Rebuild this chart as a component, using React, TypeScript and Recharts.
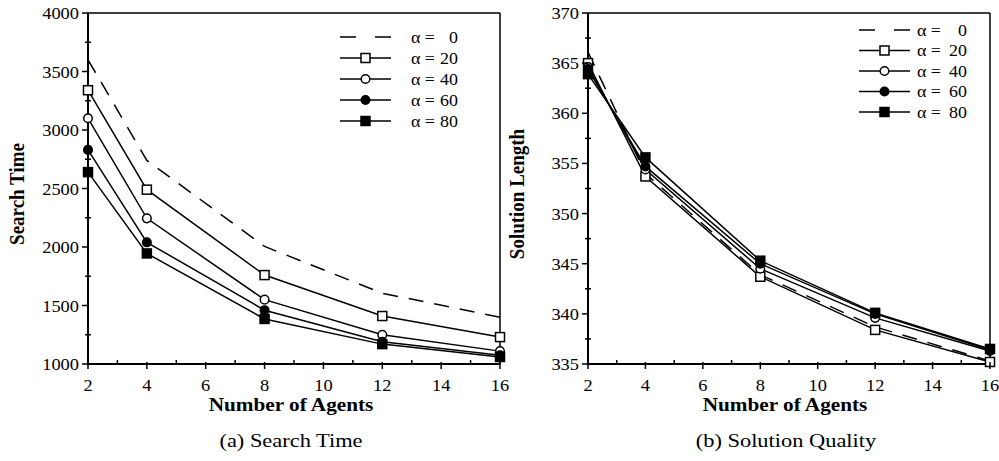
import { Legend, Line, LineChart, ReferenceLine, XAxis, YAxis } from "recharts";

const agents = [2, 4, 8, 12, 16];
const alphaLabels = ["0", "20", "40", "60", "80"];

// (a) search time
const searchTime0 = [3600, 2740, 2005, 1605, 1400];
const searchTime20 = [3340, 2490, 1760, 1410, 1230];
const searchTime40 = [3100, 2245, 1550, 1250, 1110];
const searchTime60 = [2830, 2040, 1460, 1190, 1075];
const searchTime80 = [2640, 1945, 1385, 1170, 1060];

// (b) solution length
const solution0 = [366.1, 354.0, 343.9, 338.7, 335.3];
const solution20 = [365.0, 353.7, 343.7, 338.4, 335.2];
const solution40 = [364.6, 354.4, 344.5, 339.6, 336.3];
const solution60 = [364.4, 354.7, 345.0, 340.0, 336.4];
const solution80 = [363.9, 355.6, 345.3, 340.1, 336.5];

const agentTicks = [2, 3, 4, 5, 6, 7, 8, 9, 10, 11, 12, 13, 14, 15, 16];
const searchTicks = [1000, 1250, 1500, 1750, 2000, 2250, 2500, 2750, 3000, 3250, 3500, 3750, 4000];
const solutionTicks = [335, 337.5, 340, 342.5, 345, 347.5, 350, 352.5, 355, 357.5, 360, 362.5, 365, 367.5, 370];

const FONT = "'Liberation Serif', 'Times New Roman', serif";

type Kind = "none" | "openSquare" | "openCircle" | "filledCircle" | "filledSquare";
const seriesKeys = ["a0", "a20", "a40", "a60", "a80"];
const markerKinds: Kind[] = ["none", "openSquare", "openCircle", "filledCircle", "filledSquare"];

function buildRows(series: number[][]) {
  return agents.map((n, i) => {
    const row: Record<string, number> = { agents: n };
    series.forEach((s, k) => {
      row[seriesKeys[k]] = s[i];
    });
    return row;
  });
}

const searchRows = buildRows([searchTime0, searchTime20, searchTime40, searchTime60, searchTime80]);
const solutionRows = buildRows([solution0, solution20, solution40, solution60, solution80]);

function Marker({ cx, cy, kind }: { cx?: number; cy?: number; kind: Kind }) {
  if (cx == null || cy == null || kind === "none") return null;
  if (kind === "openSquare" || kind === "filledSquare") {
    return (
      <rect
        x={cx - 4.5}
        y={cy - 4.5}
        width={9}
        height={9}
        fill={kind === "openSquare" ? "#fff" : "#000"}
        stroke="#000"
        strokeWidth={1.5}
      />
    );
  }
  return (
    <circle
      cx={cx}
      cy={cy}
      r={4.3}
      fill={kind === "openCircle" ? "#fff" : "#000"}
      stroke="#000"
      strokeWidth={1.5}
    />
  );
}

function makeYTick(step: number) {
  return (props: any) => {
    const { x, y, payload } = props;
    const v = payload.value as number;
    const major = Math.abs(v / step - Math.round(v / step)) < 1e-6;
    return (
      <g>
        {major ? (
          <line x1={x - 6} x2={x} y1={y} y2={y} stroke="#000" strokeWidth={1.5} />
        ) : (
          <line x1={x - 3} x2={x + 3} y1={y} y2={y} stroke="#000" strokeWidth={1.5} />
        )}
        {major && (
          <text
            transform={`translate(${x - 9},${y + 6}) scale(1.15,1)`}
            textAnchor="end"
            fontSize={16}
            fontFamily={FONT}
            fill="#000"
          >
            {v}
          </text>
        )}
      </g>
    );
  };
}

function XTick(props: any) {
  const { x, y, payload } = props;
  const v = payload.value as number;
  const major = v % 2 === 0;
  return (
    <g>
      {major ? (
        <line x1={x} x2={x} y1={y - 2} y2={y + 5} stroke="#000" strokeWidth={1.5} />
      ) : (
        <line x1={x} x2={x} y1={y - 4} y2={y} stroke="#000" strokeWidth={1.5} />
      )}
      {major && (
        <text
          transform={`translate(${x},${y + 27}) scale(1.15,1)`}
          textAnchor="middle"
          fontSize={16}
          fontFamily={FONT}
          fill="#000"
        >
          {v}
        </text>
      )}
    </g>
  );
}

function LegendBox({
  rowGap,
  lineEnd,
  textGap,
  valueEnd,
}: {
  rowGap: number;
  lineEnd: number;
  textGap: number;
  valueEnd: number;
}) {
  return (
    <svg width={150} height={115}>
      {alphaLabels.map((a, i) => {
        const y = 12 + i * rowGap;
        const kind = markerKinds[i];
        const mid = (10 + lineEnd) / 2;
        return (
          <g key={a}>
            {kind === "none" ? (
              <line x1={10} x2={lineEnd} y1={y} y2={y} stroke="#000" strokeWidth={1.5} strokeDasharray="16 19" />
            ) : (
              <line x1={10} x2={lineEnd} y1={y} y2={y} stroke="#000" strokeWidth={1.5} />
            )}
            <Marker cx={mid} cy={y} kind={kind} />
            <text
              transform={`translate(${lineEnd + textGap},${y + 5.5}) scale(1.12,1)`}
              fontSize={16}
              fontFamily={FONT}
              fill="#000"
            >
              {"\u03b1 ="}
            </text>
            <text
              transform={`translate(${valueEnd},${y + 5.5}) scale(1.12,1)`}
              textAnchor="end"
              fontSize={16}
              fontFamily={FONT}
              fill="#000"
            >
              {a}
            </text>
          </g>
        );
      })}
    </svg>
  );
}

function Panel({
  rows,
  width,
  rightMargin,
  domain,
  yTicks,
  step,
  legendLeft,
  legendTop,
  rowGap,
  textGap,
  valueEnd,
}: {
  rows: Record<string, number>[];
  width: number;
  rightMargin: number;
  domain: [number, number];
  yTicks: number[];
  step: number;
  legendLeft: number;
  legendTop: number;
  rowGap: number;
  textGap: number;
  valueEnd: number;
}) {
  return (
    <LineChart width={width} height={461} data={rows} margin={{ top: 13, right: rightMargin, bottom: 67, left: 0 }}>
      <XAxis
        dataKey="agents"
        type="number"
        domain={[2, 16]}
        ticks={agentTicks}
        interval={0}
        height={30}
        tickSize={0}
        tickMargin={0}
        tickLine={false}
        tick={XTick}
        axisLine={{ stroke: "#000", strokeWidth: 2 }}
      />
      <YAxis
        type="number"
        domain={domain}
        ticks={yTicks}
        interval={0}
        width={88}
        tickSize={0}
        tickMargin={0}
        tickLine={false}
        tick={makeYTick(step)}
        axisLine={{ stroke: "#000", strokeWidth: 2 }}
      />
      <ReferenceLine y={domain[1]} stroke="#000" strokeWidth={1.5} />
      <ReferenceLine x={16} stroke="#000" strokeWidth={1.5} />
      {seriesKeys.map((key, k) => (
        <Line
          key={key}
          dataKey={key}
          type="linear"
          stroke="#000"
          strokeWidth={1.5}
          strokeDasharray={k === 0 ? "15 11" : undefined}
          isAnimationActive={false}
          dot={
            k === 0
              ? false
              : (p: any) => <Marker key={`${key}-${p.index}`} cx={p.cx} cy={p.cy} kind={markerKinds[k]} />
          }
          activeDot={false}
        />
      ))}
      <Legend
        layout="horizontal"
        verticalAlign="middle"
        align="center"
        wrapperStyle={{ left: legendLeft, top: legendTop, width: 150, height: 115 }}
        content={() => <LegendBox rowGap={rowGap} lineEnd={61} textGap={textGap} valueEnd={valueEnd} />}
      />
    </LineChart>
  );
}

export default function App() {
  const title = { fontFamily: FONT, fontWeight: 700, fill: "#000" } as const;
  const caption = { fontFamily: FONT, fill: "#000" } as const;
  return (
    <div style={{ position: "absolute", left: 0, top: 0, width: 999, height: 461, background: "#fff" }}>
      <div style={{ position: "absolute", left: 0, top: 0 }}>
        <Panel
          rows={searchRows}
          width={510}
          rightMargin={10}
          domain={[1000, 4000]}
          yTicks={searchTicks}
          step={500}
          legendLeft={330}
          legendTop={25}
          rowGap={21}
          textGap={20}
          valueEnd={128}
        />
      </div>
      <div style={{ position: "absolute", left: 500, top: 0 }}>
        <Panel
          rows={solutionRows}
          width={499}
          rightMargin={9}
          domain={[335, 370]}
          yTicks={solutionTicks}
          step={5}
          legendLeft={349}
          legendTop={18}
          rowGap={20.5}
          textGap={7}
          valueEnd={118}
        />
      </div>
      <svg width={999} height={461} style={{ position: "absolute", left: 0, top: 0, pointerEvents: "none" }}>
        <text transform="translate(24,194) rotate(-90) scale(1,1.12)" textAnchor="middle" fontSize={19} {...title}>
          Search Time
        </text>
        <text transform="translate(524,194) rotate(-90) scale(1,1.12)" textAnchor="middle" fontSize={19} {...title}>
          Solution Length
        </text>
        <text transform="translate(291,411) scale(1.18,1)" textAnchor="middle" fontSize={18} {...title}>
          Number of Agents
        </text>
        <text transform="translate(785,411) scale(1.18,1)" textAnchor="middle" fontSize={18} {...title}>
          Number of Agents
        </text>
        <text transform="translate(291,447) scale(1.18,1)" textAnchor="middle" fontSize={19} {...caption}>
          (a) Search Time
        </text>
        <text transform="translate(786,447) scale(1.18,1)" textAnchor="middle" fontSize={19} {...caption}>
          (b) Solution Quality
        </text>
      </svg>
    </div>
  );
}
